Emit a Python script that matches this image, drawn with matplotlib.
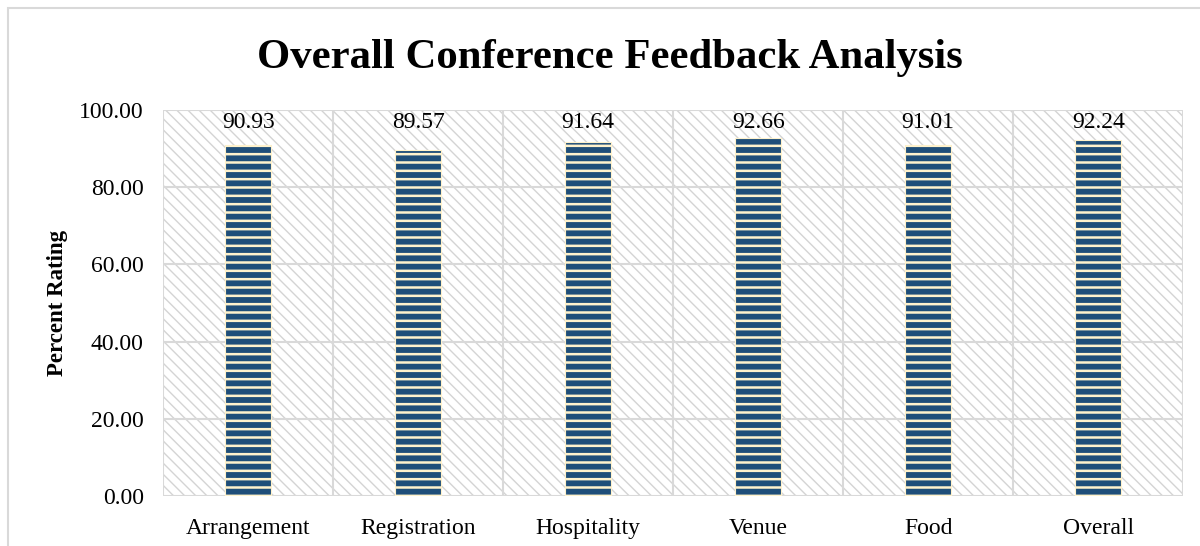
import numpy as np
import matplotlib.pyplot as plt
from matplotlib.patches import Rectangle

categories = ['Arrangement', 'Registration', 'Hospitality', 'Venue', 'Food', 'Overall']
ratings = [90.93, 89.57, 91.64, 92.66, 91.01, 92.24]
y_ticks = [0, 20, 40, 60, 80, 100]

plt.rcParams['font.family'] = ['Liberation Serif', 'DejaVu Serif']
plt.rcParams['hatch.linewidth'] = 1.0

fig = plt.figure(figsize=(12, 5.46), dpi=100)
ax = fig.add_axes([0.136, 0.0916, 0.85, 0.707])

# outer chart border
fig.patches.append(Rectangle((8/1200, -0.1), 1.2, 1 - 8/546 + 0.1, transform=fig.transFigure,
                             fill=False, edgecolor='#d9d9d9', linewidth=1.5, zorder=0))

# hatched plot background
bg = Rectangle((0, 0), 1, 1, transform=ax.transAxes, facecolor='white',
               edgecolor='#d4d4d4', hatch='\\\\\\', linewidth=0, zorder=0)
ax.add_patch(bg)

x = np.arange(len(categories))
bars = ax.bar(x, ratings, width=0.27, color='#1f4e79', edgecolor='#fff2cc',
              hatch='--', linewidth=0.8, zorder=3)
for b in bars:
    if hasattr(b, 'set_hatch_linewidth'):
        b.set_hatch_linewidth(1.8)

for xi, v in zip(x, ratings):
    ax.text(xi, 95.3, f'{v:.2f}', ha='center', va='baseline', fontsize=17, zorder=4)

ax.set_xlim(-0.5, len(categories) - 0.5)
ax.set_ylim(0, 100)
ax.set_yticks(y_ticks)
ax.set_yticklabels([f'{t:.2f}' for t in y_ticks], fontsize=17)
ax.set_xticks(x)
ax.set_xticklabels(categories, fontsize=17)
ax.tick_params(axis='y', length=0, pad=14)
ax.tick_params(axis='x', length=0, pad=16)

# grid: horizontal at ticks, vertical at category boundaries
for t in y_ticks:
    ax.axhline(t, color='#d9d9d9', linewidth=1.5, zorder=1)
for b in np.arange(-0.5, len(categories), 1.0):
    ax.axvline(b, color='#d9d9d9', linewidth=1.5, zorder=1)
for s in ax.spines.values():
    s.set_visible(False)

ax.set_ylabel('Percent Rating', fontsize=16.5, fontweight='bold')
ax.yaxis.set_label_coords(-0.093, 0.5)
fig.text(0.508, 0.893, 'Overall Conference Feedback Analysis', ha='center', va='center',
         fontsize=30.8, fontweight='bold')

fig.savefig('out.png', dpi=100)
